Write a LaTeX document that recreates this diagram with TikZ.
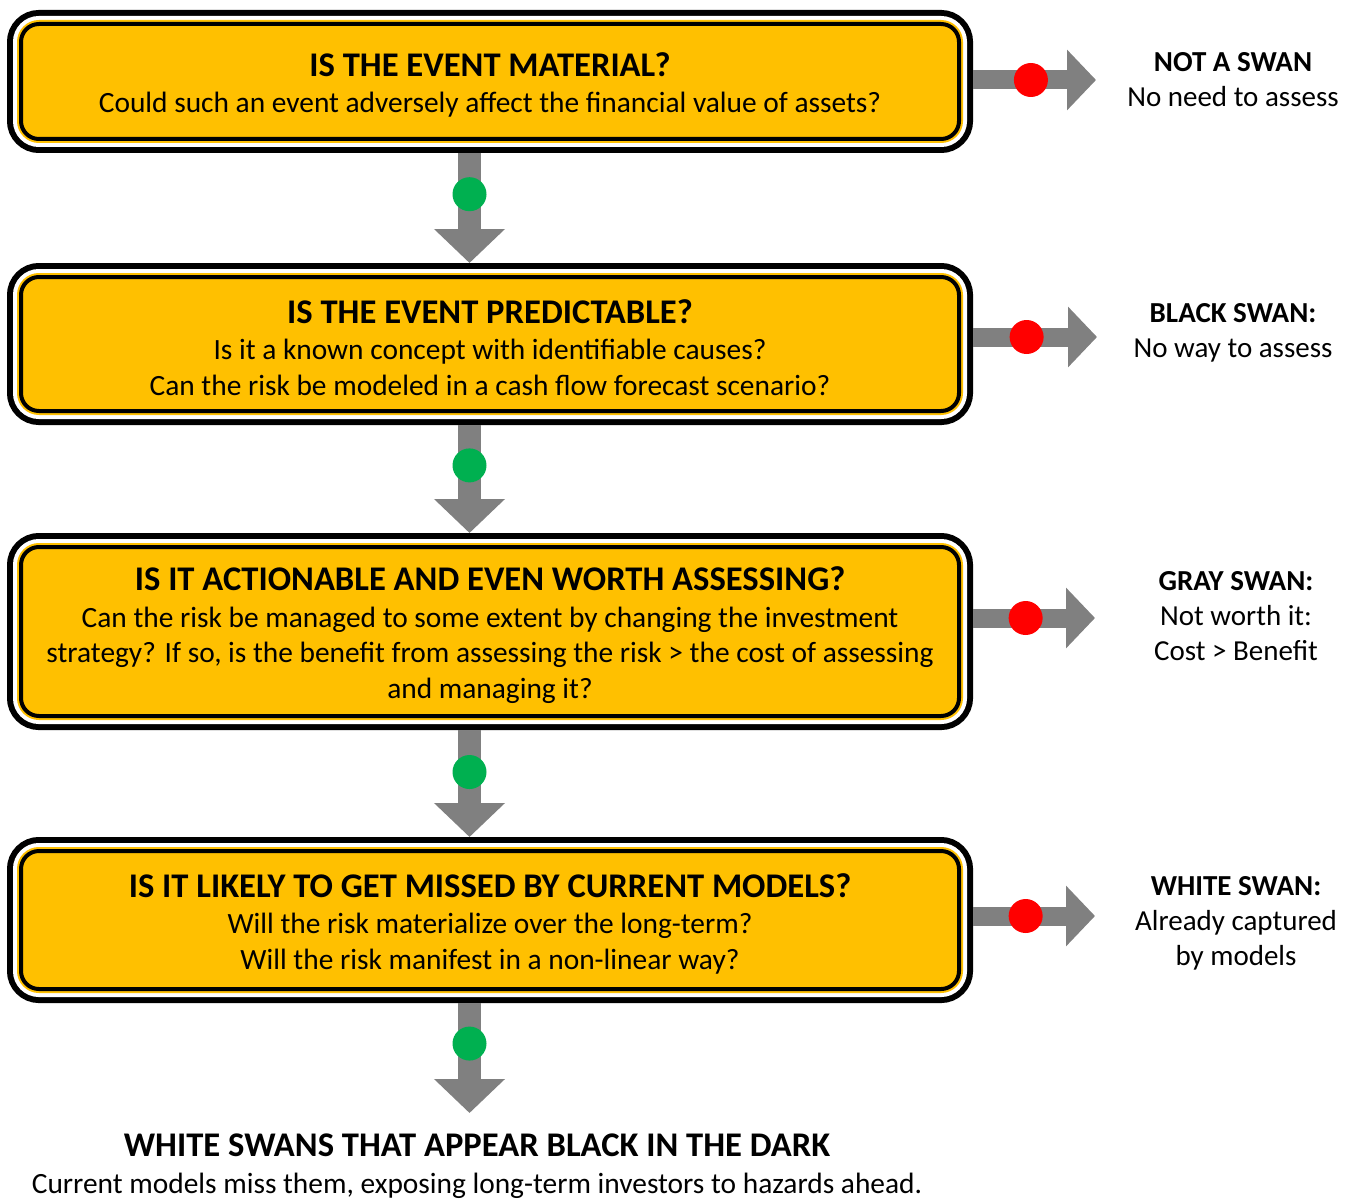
\documentclass[tikz,border=0pt]{standalone}
\usepackage{fontspec}
\setmainfont{Carlito}
\usepackage{tikz}
\usetikzlibrary{arrows.meta,positioning}

\definecolor{signyellow}{HTML}{FFC000}
\definecolor{arrowgray}{HTML}{808080}
\definecolor{goGreen}{HTML}{00B050}
\definecolor{stopRed}{HTML}{FF0000}

\newcommand{\bodyfont}{\fontsize{14.7}{17.75}\selectfont}
\newcommand{\sidefont}{\fontsize{14.5}{17.5}\selectfont}
\newcommand{\qhead}[1]{{\fontsize{17.3}{17.75}\selectfont\bfseries\rule{0pt}{15.5pt}#1}}

\begin{document}
\begin{tikzpicture}[
    x=0.5pt, y=-0.5pt,
    qbox/.style={draw=black, line width=2pt, fill=signyellow, rounded corners=9pt,
        minimum width=469pt, inner sep=0pt, outer sep=0pt, align=center, font=\bodyfont,
        preaction={draw=black, line width=14pt},
        preaction={draw=white, line width=8pt},
        preaction={draw=signyellow, line width=4pt}},
    downarr/.style={arrowgray, line width=11.5pt, shorten <=7pt, shorten >=7pt,
        -{Triangle[width=34.5pt, length=17pt]}},
    sidearr/.style={arrowgray, line width=9.5pt, shorten <=7pt,
        -{Triangle[width=29.5pt, length=14.5pt]}},
    yes/.style={circle, fill=goGreen, minimum size=17pt, inner sep=0pt},
    no/.style={circle, fill=stopRed, minimum size=17pt, inner sep=0pt},
    verdict/.style={align=center, font=\sidefont}
]
\useasboundingbox (0,0) rectangle (1352,1198);
% question boxes
\node[qbox, minimum height=57.5pt] (material) at (490,81.5)
    {\qhead{IS THE EVENT MATERIAL?}\\[0.5pt]
     Could such an event adversely affect the financial value of assets?};
\node[qbox, minimum height=67pt] (predict) at (490,344)
    {\qhead{IS THE EVENT PREDICTABLE?}\\[0.5pt]
     Is it a known concept with identifiable causes?\\
     Can the risk be modeled in a cash flow forecast scenario?};
\node[qbox, minimum height=84.5pt] (action) at (490,631.5)
    {\qhead{IS IT ACTIONABLE AND EVEN WORTH ASSESSING?}\\[0.5pt]
     Can the risk be managed to some extent by changing the investment\\
     strategy? If so, is the benefit from assessing the risk > the cost of assessing\\
     and managing it?};
\node[qbox, minimum height=69pt] (missed) at (490,920)
    {\qhead{IS IT LIKELY TO GET MISSED BY CURRENT MODELS?}\\[0.5pt]
     Will the risk materialize over the long-term?\\
     Will the risk manifest in a non-linear way?};
% outcome
\node[align=center, font=\bodyfont] (dark) at (477,1166)
    {{\fontsize{17.3}{17.5}\selectfont\bfseries WHITE SWANS THAT APPEAR BLACK IN THE DARK}\\[1pt]
     Current models miss them, exposing long-term investors to hazards ahead.};
% verdicts on the right
\node[verdict] (notswan) at (1233,80) {\textbf{NOT A SWAN}\\No need to assess};
\node[verdict] (black) at (1233,333) {\textbf{BLACK SWAN:}\\No way to assess};
\node[verdict] (gray) at (1236,616) {\textbf{GRAY SWAN:}\\Not worth it:\\Cost > Benefit};
\node[verdict] (white) at (1236,923) {\textbf{WHITE SWAN:}\\Already captured\\by models};
% arrow axes
\coordinate (axis) at (469.5,0);
\coordinate (last) at (469.5,1113);
\coordinate (t1) at (1096,80);
\coordinate (t2) at (1097,337);
\coordinate (t3) at (1095,618);
\coordinate (t4) at (1095,916);
% yes arrows
\draw[downarr] (material.south -| axis) -- node[pos=0.4, yes] {} (predict.north -| axis);
\draw[downarr] (predict.south -| axis) -- node[pos=0.4, yes] {} (action.north -| axis);
\draw[downarr] (action.south -| axis) -- node[pos=0.415, yes] {} (missed.north -| axis);
\draw[downarr, shorten >=0pt] (missed.south -| axis) -- node[pos=0.44, yes] {} (last);
% no arrows
\draw[sidearr] (material.east |- t1) -- node[pos=0.525, no] {} (t1);
\draw[sidearr] (predict.east |- t2) -- node[pos=0.49, no] {} (t2);
\draw[sidearr] (action.east |- t3) -- node[pos=0.49, no] {} (t3);
\draw[sidearr] (missed.east |- t4) -- node[pos=0.49, no] {} (t4);
\end{tikzpicture}
\end{document}
